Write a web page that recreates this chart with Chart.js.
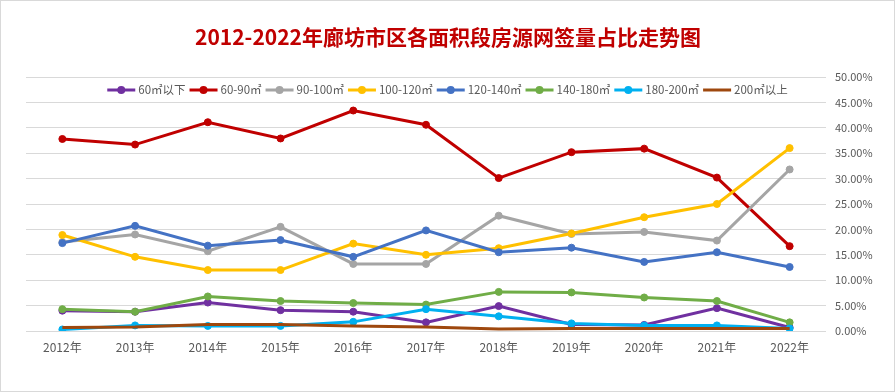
<!DOCTYPE html>
<html>
<head>
<meta charset="utf-8">
<script src="https://cdn.jsdelivr.net/npm/chart.js@4.4.1/dist/chart.umd.min.js"></script>
<style>
html,body{margin:0;padding:0;background:#fff;}
#wrap{width:895px;height:392px;position:relative;}
canvas{display:block;}
</style>
</head>
<body>
<div id="wrap"><canvas id="c" width="895" height="392"></canvas></div>
<script>
const chartTitle = '2012-2022年廊坊市区各面积段房源网签量占比走势图';
const years = ['2012年','2013年','2014年','2015年','2016年','2017年','2018年','2019年','2020年','2021年','2022年'];
const seriesNames = ['60㎡以下','60-90㎡','90-100㎡','100-120㎡','120-140㎡','140-180㎡','180-200㎡','200㎡以上'];
const s60below  = [4.0, 3.8, 5.6, 4.1, 3.8, 1.7, 4.9, 1.3, 1.2, 4.5, 0.7];
const s60to90   = [37.8, 36.7, 41.1, 37.9, 43.4, 40.6, 30.1, 35.2, 35.9, 30.2, 16.7];
const s90to100  = [17.5, 19.0, 15.7, 20.5, 13.2, 13.2, 22.7, 19.1, 19.5, 17.8, 31.8];
const s100to120 = [18.9, 14.6, 12.0, 12.0, 17.2, 15.0, 16.3, 19.2, 22.4, 25.0, 36.0];
const s120to140 = [17.3, 20.7, 16.8, 17.9, 14.6, 19.8, 15.5, 16.4, 13.6, 15.5, 12.6];
const s140to180 = [4.3, 3.8, 6.8, 5.9, 5.5, 5.2, 7.7, 7.6, 6.6, 5.9, 1.7];
const s180to200 = [0.3, 1.1, 1.0, 1.0, 1.8, 4.3, 2.9, 1.5, 1.1, 1.1, 0.5];
const s200above = [0.7, 0.8, 1.3, 1.3, 1.0, 0.8, 0.4, 0.5, 0.5, 0.5, 0.5];
const seriesValues = [s60below, s60to90, s90to100, s100to120, s120to140, s140to180, s180to200, s200above];
const seriesColors = ['#7030A0','#C00000','#A5A5A5','#FFC000','#4472C4','#70AD47','#00B0F0','#9E480E'];
const seriesMarkers = [true, true, true, true, true, true, true, false];

const FONT = '"Noto Sans CJK SC","Noto Sans",sans-serif';
const TEXT_COLOR = '#595959';

const datasets = seriesValues.map((vals, i) => ({
  label: seriesNames[i],
  data: vals,
  borderColor: seriesColors[i],
  backgroundColor: seriesColors[i],
  borderWidth: 3,
  pointRadius: seriesMarkers[i] ? 3.5 : 0,
  pointBorderWidth: 1,
  pointBackgroundColor: seriesColors[i],
  pointBorderColor: seriesColors[i],
  tension: 0,
  order: seriesValues.length - i
}));

const decorPlugin = {
  id: 'decor',
  beforeDraw(chart) {
    const ctx = chart.ctx;
    ctx.save();
    ctx.fillStyle = '#fff';
    ctx.fillRect(0, 0, chart.width, chart.height);
    ctx.restore();
  },
  afterDraw(chart) {
    const ctx = chart.ctx;
    ctx.save();
    // border
    ctx.strokeStyle = '#D9D9D9';
    ctx.lineWidth = 1;
    ctx.strokeRect(0.5, 0.5, chart.width - 1, chart.height - 1);
    // title
    ctx.fillStyle = '#C00000';
    ctx.font = 'bold 21px ' + FONT;
    ctx.textAlign = 'center';
    ctx.textBaseline = 'middle';
    ctx.fillText(chartTitle, chart.width / 2 + 0.5, 37);
    // legend
    ctx.font = '11.5px ' + FONT;
    const lineW = 28, gapText = 3, gapItem = 4;
    const widths = chart.data.datasets.map(d => ctx.measureText(d.label).width);
    let total = 0;
    widths.forEach((w, i) => { total += lineW + gapText + w + (i < widths.length - 1 ? gapItem : 0); });
    let x = chart.width / 2 - total / 2;
    const y = 90;
    chart.data.datasets.forEach((d, i) => {
      ctx.strokeStyle = d.borderColor;
      ctx.lineWidth = 3;
      ctx.beginPath();
      ctx.moveTo(x, y);
      ctx.lineTo(x + lineW, y);
      ctx.stroke();
      if (d.pointRadius > 0) {
        ctx.fillStyle = d.borderColor;
        ctx.beginPath();
        ctx.arc(x + lineW / 2, y, 4, 0, Math.PI * 2);
        ctx.fill();
      }
      ctx.fillStyle = TEXT_COLOR;
      ctx.textAlign = 'left';
      ctx.textBaseline = 'middle';
      ctx.fillText(d.label, x + lineW + gapText, y);
      x += lineW + gapText + widths[i] + gapItem;
    });
    ctx.restore();
  }
};

new Chart(document.getElementById('c'), {
  type: 'line',
  data: { labels: years, datasets },
  options: {
    responsive: false,
    animation: false,
    devicePixelRatio: 1,
    layout: { padding: { top: 77, left: 26, right: 0, bottom: 31 } },
    plugins: { legend: { display: false }, title: { display: false }, tooltip: { enabled: false } },
    scales: {
      x: {
        offset: true,
        grid: { display: false },
        border: { display: false },
        ticks: { color: TEXT_COLOR, font: { family: FONT, size: 12 }, padding: 1, maxRotation: 0 },
        afterFit(scale) { scale.height = 30; }
      },
      y: {
        position: 'right',
        min: 0, max: 50,
        ticks: { stepSize: 5, color: TEXT_COLOR, font: { family: FONT, size: 11 }, padding: 9,
                 callback: v => v.toFixed(2) + '%' },
        grid: { color: '#D9D9D9', lineWidth: 1, drawTicks: false },
        border: { display: false },
        afterFit(scale) { scale.width = 69; }
      }
    }
  },
  plugins: [decorPlugin]
});
</script>
</body>
</html>
